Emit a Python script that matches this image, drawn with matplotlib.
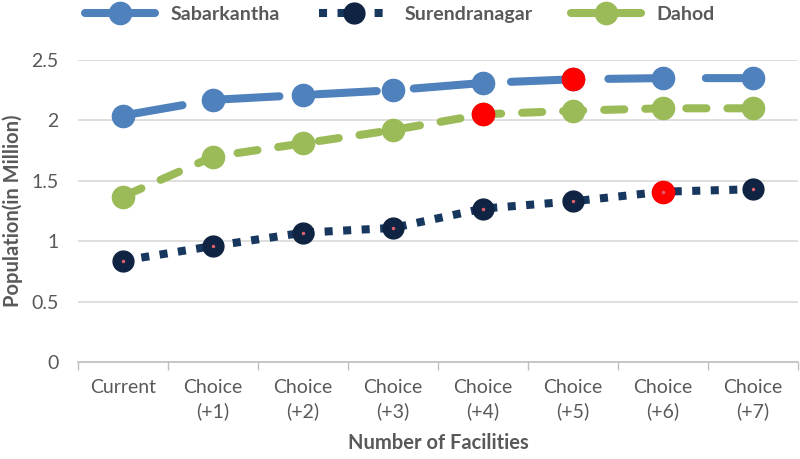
import numpy as np
import matplotlib
matplotlib.use("Agg")
import matplotlib.pyplot as plt
from matplotlib.lines import Line2D

plt.rcParams['font.family'] = ['Lato', 'DejaVu Sans']

categories = ["Current", "Choice\n(+1)", "Choice\n(+2)", "Choice\n(+3)",
              "Choice\n(+4)", "Choice\n(+5)", "Choice\n(+6)", "Choice\n(+7)"]
sabarkantha = [2.04, 2.17, 2.21, 2.25, 2.31, 2.34, 2.35, 2.35]
surendranagar = [0.84, 0.96, 1.07, 1.11, 1.27, 1.33, 1.41, 1.43]
dahod = [1.37, 1.70, 1.81, 1.92, 2.05, 2.08, 2.10, 2.10]
# index of the highlighted (red) point per series
red_sab = 5
red_sur = 6
red_dah = 4

blue = "#4F81BD"
navy = "#17375E"
navy_mk = "#0F2342"
green = "#9BBB59"
grey = "#595959"

fig = plt.figure(figsize=(8, 4.59), dpi=100)
ax = fig.add_axes([0.0975, 0.2113, 0.9, 0.658])
x = np.arange(len(categories))

lw = 5.8
ax.plot(x, sabarkantha, color=blue, lw=lw, dashes=(7.5, 4.6), dash_capstyle='round',
        marker='o', ms=16, mfc=blue, mec=blue, zorder=3)
ax.plot(x, dahod, color=green, lw=lw, dashes=(2.5, 2.6), dash_capstyle='round',
        marker='o', ms=16, mfc=green, mec=green, zorder=3)
ax.plot(x, surendranagar, color=navy, lw=lw, dashes=(1, 1.3), dash_capstyle='butt',
        marker='o', ms=15, mfc=navy_mk, mec=navy_mk, zorder=3)

# red highlighted points
ax.plot(x[red_sab], sabarkantha[red_sab], 'o', ms=16, color='#FF0000', zorder=4)
ax.plot(x[red_dah], dahod[red_dah], 'o', ms=16, color='#FF0000', zorder=4)
ax.plot(x[red_sur], surendranagar[red_sur], 'o', ms=16, color='#FF0000', zorder=4)
# tiny pink centre dots on the navy markers
ax.plot(x, surendranagar, 'o', ms=1.5, color='#E06070', lw=0, zorder=5)

ax.set_xlim(-0.5, len(categories) - 0.5)
ax.set_ylim(0, 2.5)
ax.set_yticks([0, 0.5, 1, 1.5, 2, 2.5])
ax.set_yticklabels(["0", "0.5", "1", "1.5", "2", "2.5"])
ax.set_xticks(x)
ax.set_xticklabels(categories, va='top', linespacing=1.45)
ax.set_xticks(np.arange(-0.5, len(categories), 1), minor=True)
ax.tick_params(axis='x', which='major', length=0, pad=12, labelsize=14, colors=grey)
ax.tick_params(axis='x', which='minor', length=6, color='#BFBFBF', width=1)
ax.tick_params(axis='y', length=0, pad=14, labelsize=14, colors=grey)
ax.grid(axis='y', color='#D9D9D9', lw=1.2)
ax.set_axisbelow(True)
for s in ['top', 'right', 'left']:
    ax.spines[s].set_visible(False)
ax.spines['bottom'].set_color('#BFBFBF')
ax.spines['bottom'].set_linewidth(1.2)

ax.set_xlabel("Number of Facilities", fontsize=14.5, fontweight='bold', color=grey, labelpad=9)
ax.set_ylabel("Population(in Million)", fontsize=14.5, fontweight='bold', color=grey, labelpad=6)

handles = [
    Line2D([], [], color=blue, lw=lw, marker='o', ms=16, solid_capstyle='round'),
    Line2D([], [], color=navy, lw=lw, dashes=(1, 1.3), marker='o', ms=15, mfc=navy_mk, mec=navy_mk),
    Line2D([], [], color=green, lw=lw, marker='o', ms=16, solid_capstyle='round'),
]
fig.legend(handles, ["Sabarkantha", "Surendranagar", "Dahod"], loc='upper center',
           bbox_to_anchor=(0.5, 1.025), ncol=3, frameon=False, handlelength=3.6,
           columnspacing=2.0, prop={'size': 14, 'weight': 'bold'}, labelcolor=grey)

fig.savefig("out.png", dpi=100)
